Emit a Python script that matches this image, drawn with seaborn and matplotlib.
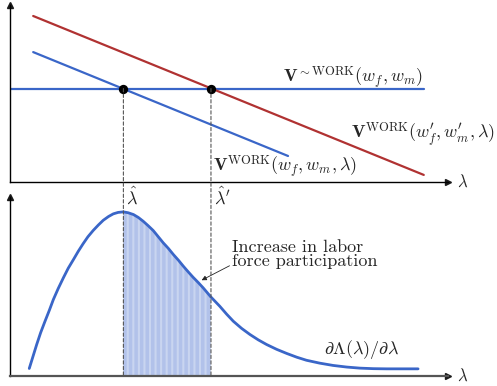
import matplotlib
matplotlib.use('Agg')
import matplotlib.pyplot as plt
from matplotlib.patches import ConnectionPatch
import seaborn as sns
import pandas as pd

# values (lambda axis runs 0..10, both panels 0..10 high)
lam_hat = 2.59
lam_hat2 = 4.59
v_notwork = 5.28
notwork_x = [0.0, 9.45]
work_new_x = [0.53, 9.45]
work_new_y = [9.38, 0.40]
work_old_x = [0.53, 6.35]
work_old_y = [7.34, 1.47]

dens_x = [0.44, 0.61, 0.70, 0.80, 0.90, 0.99, 1.10, 1.22, 1.33, 1.45, 1.56,
          1.67, 1.78, 1.90, 2.02, 2.13, 2.25, 2.36, 2.47, 2.59, 2.70, 2.82,
          2.93, 3.04, 3.15, 3.27, 3.38, 3.50, 3.62, 3.73, 3.85, 3.96, 4.07,
          4.18, 4.30, 4.41, 4.50, 4.59, 4.79, 4.95, 5.10, 5.29, 5.48, 5.67,
          5.86, 6.09, 6.32, 6.55, 6.77, 7.07, 7.38, 7.69, 7.99, 8.30, 8.60,
          9.32]
dens_y = [0.42, 1.76, 2.42, 3.06, 3.68, 4.27, 4.88, 5.49, 6.02, 6.51, 6.97,
          7.39, 7.78, 8.13, 8.44, 8.70, 8.91, 9.06, 9.14, 9.17, 9.12, 9.02,
          8.86, 8.65, 8.41, 8.13, 7.80, 7.44, 7.12, 6.79, 6.46, 6.13, 5.82,
          5.52, 5.22, 4.93, 4.67, 4.41, 3.90, 3.45, 3.06, 2.66, 2.32, 2.02,
          1.76, 1.49, 1.26, 1.05, 0.88, 0.72, 0.59, 0.50, 0.44, 0.41, 0.40,
          0.40]

red = '#b03232'
blue = '#3a66c8'

sns.set_theme(style='white')
plt.rcParams['mathtext.fontset'] = 'cm'
plt.rcParams['font.family'] = ['cmr10', 'DejaVu Serif']
plt.rcParams['axes.formatter.use_mathtext'] = True
plt.rcParams['hatch.linewidth'] = 2.5

fig = plt.figure(figsize=(4.97, 3.86), dpi=100)
ax1 = fig.add_axes([0.0201, 0.5285, 0.881, 0.4585])
ax2 = fig.add_axes([0.0201, 0.0259, 0.881, 0.4637])

for ax in (ax1, ax2):
    ax.set_xlim(0, 10)
    ax.set_ylim(0, 10)
    ax.set_xticks([])
    ax.set_yticks([])
    ax.patch.set_visible(False)
    for s in ['top', 'right']:
        ax.spines[s].set_visible(False)
    for s in ['left', 'bottom']:
        ax.spines[s].set_color('black')
        ax.spines[s].set_linewidth(1.0)
    ax.plot(1, 0, '>k', ms=4, transform=ax.transAxes, clip_on=False)
    ax.plot(0, 1, '^k', ms=4, transform=ax.transAxes, clip_on=False)
    ax.text(1.02, 0, r'$\lambda$', transform=ax.transAxes, fontsize=12,
            ha='left', va='center')
ax2.spines['bottom'].set_color('#555555')
ax2.spines['bottom'].set_linewidth(1.6)

# top panel: value functions
sns.lineplot(x=notwork_x, y=[v_notwork, v_notwork], ax=ax1, color=blue, lw=1.6)
sns.lineplot(x=work_new_x, y=work_new_y, ax=ax1, color=red, lw=1.6)
sns.lineplot(x=work_old_x, y=work_old_y, ax=ax1, color=blue, lw=1.6)
dots = pd.DataFrame({'x': [lam_hat, lam_hat2], 'y': [v_notwork, v_notwork]})
sns.scatterplot(data=dots, x='x', y='y', ax=ax1, color='black', s=45,
                zorder=5, clip_on=False, linewidth=0)

ax1.text(6.23, 5.88, r'$\mathbf{V}^{\sim\mathrm{WORK}}(w_f, w_m)$',
         fontsize=13, ha='left', va='center')
ax1.text(7.78, 2.66, r"$\mathbf{V}^{\mathrm{WORK}}(w_f', w_m', \lambda)$",
         fontsize=13, ha='left', va='center')
ax1.text(4.63, 0.85, r'$\mathbf{V}^{\mathrm{WORK}}(w_f, w_m, \lambda)$',
         fontsize=13, ha='left', va='center')
ax1.text(lam_hat + 0.07, -0.2, r'$\hat{\lambda}$', fontsize=13,
         ha='left', va='top')
ax1.text(lam_hat2 + 0.07, -0.2, r"$\hat{\lambda}'$", fontsize=13,
         ha='left', va='top')

# bottom panel: density
dens = pd.DataFrame({'x': dens_x, 'y': dens_y})
mask = (dens['x'] >= lam_hat) & (dens['x'] <= lam_hat2)
ax2.fill_between(dens['x'], dens['y'], where=mask, facecolor='#c9d5f0',
                 edgecolor='#b2c2ea', hatch='|||', linewidth=0, zorder=1)
sns.lineplot(data=dens, x='x', y='y', ax=ax2, color=blue, lw=2.0, zorder=3)
ax2.lines[-1].set_solid_joinstyle('round')

ax2.text(5.07, 6.8, 'Increase in labor\nforce participation', fontsize=13,
         ha='left', va='center', linespacing=0.9)
ax2.annotate('', xy=(4.32, 5.28), xytext=(5.07, 6.23),
             arrowprops=dict(arrowstyle='-|>', color='#222222', lw=0.6,
                             mutation_scale=7))
ax2.text(7.17, 1.48, r'$\partial\Lambda(\lambda)/\partial\lambda$',
         fontsize=13, ha='left', va='center')

for lx in (lam_hat, lam_hat2):
    con = ConnectionPatch(xyA=(lx, v_notwork), coordsA=ax1.transData,
                          xyB=(lx, 0), coordsB=ax2.transData,
                          color='#555555', lw=0.8, linestyle=(0, (3, 2)),
                          zorder=2)
    fig.add_artist(con)

for ax in (ax1, ax2):
    ax.set_xlabel('')
    ax.set_ylabel('')

fig.savefig('out.png', dpi=100)
